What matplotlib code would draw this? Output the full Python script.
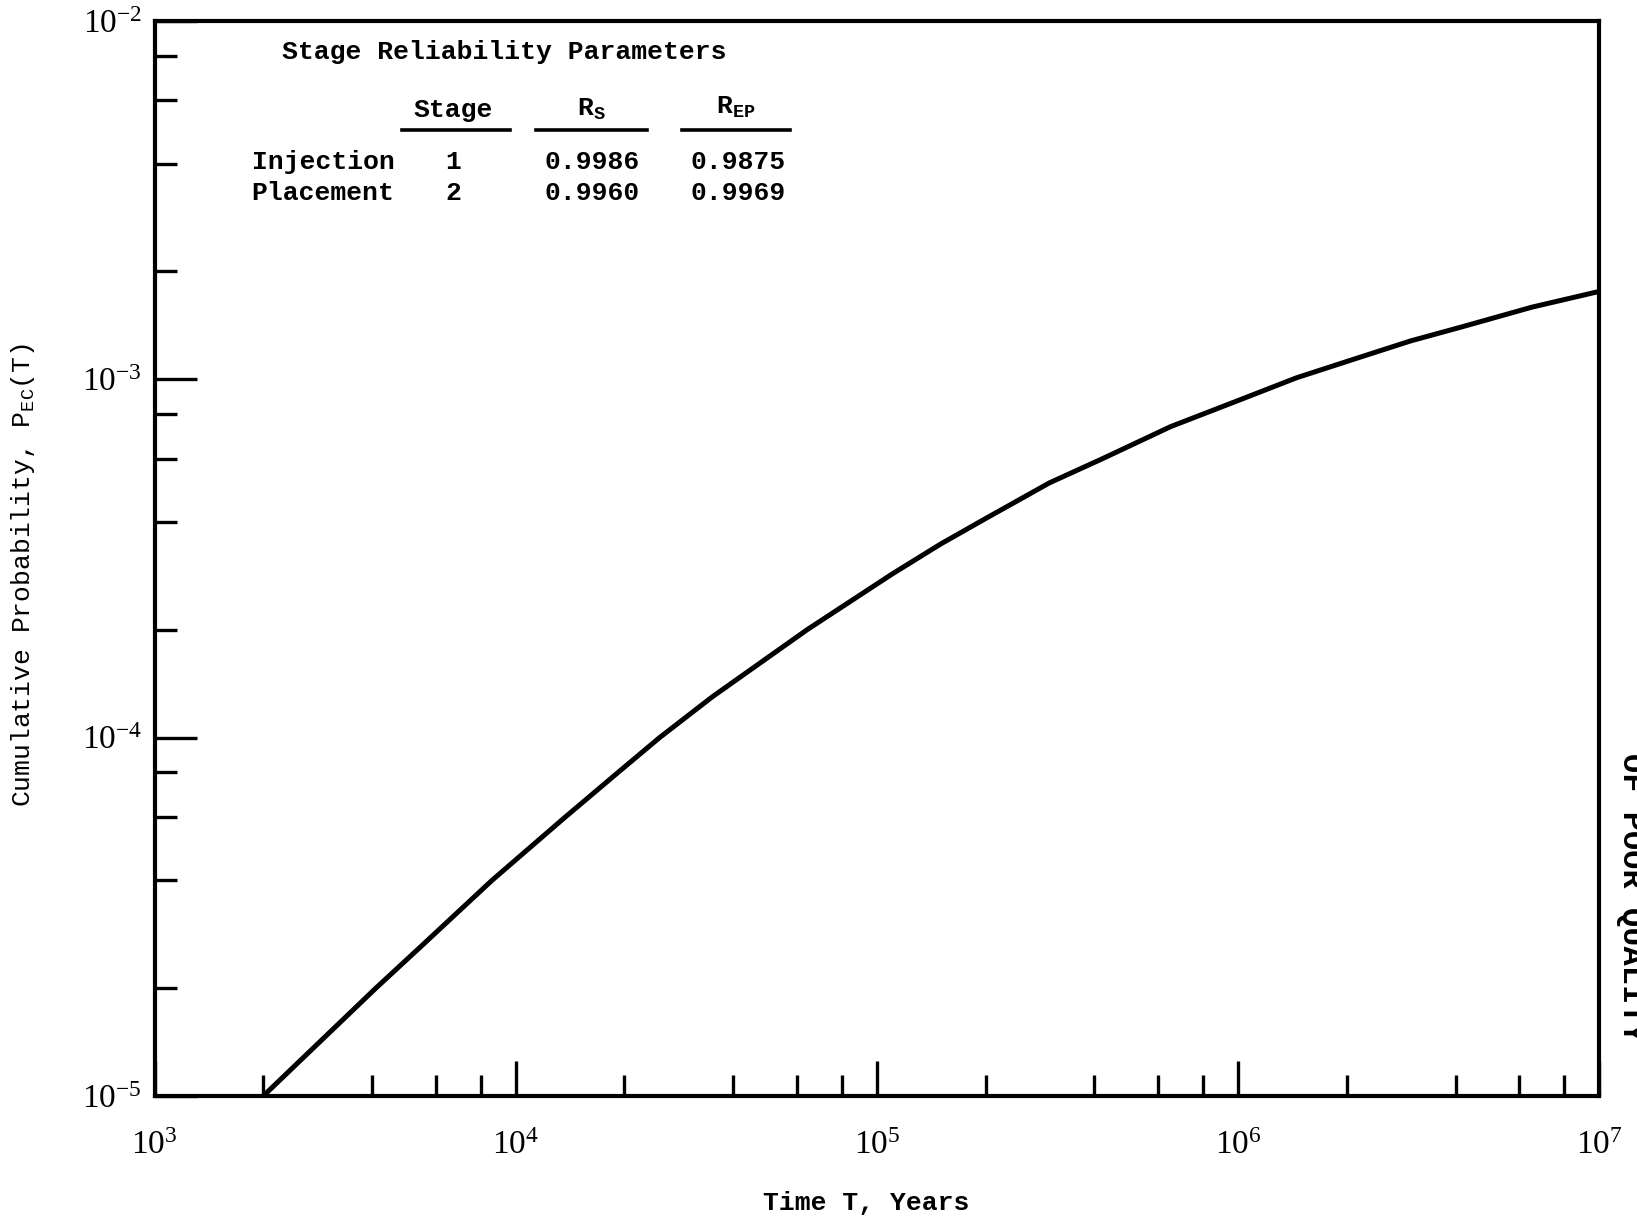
import numpy as np
import matplotlib
matplotlib.use("Agg")
import matplotlib.pyplot as plt
from matplotlib.ticker import LogLocator, NullFormatter, FuncFormatter

# curve
time_years = [2.0e3, 4.1e3, 5.5e3, 8.6e3, 1.37e4, 1.92e4, 2.5e4, 3.5e4, 6.4e4,
              1.1e5, 1.5e5, 2.0e5, 3.0e5, 4.2e5, 6.5e5, 1.0e6, 1.45e6, 2.1e6,
              3.0e6, 4.15e6, 6.5e6, 1.0e7]
prob_ec = [1.0e-5, 2.0e-5, 2.63e-5, 4.0e-5, 6.0e-5, 8.0e-5, 1.0e-4, 1.30e-4, 2.0e-4,
           2.86e-4, 3.47e-4, 4.09e-4, 5.14e-4, 6.0e-4, 7.38e-4, 8.73e-4, 1.01e-3, 1.14e-3,
           1.28e-3, 1.40e-3, 1.59e-3, 1.76e-3]

# stage reliability table
stage_names = ["Injection", "Placement"]
stage_nums = ["1", "2"]
r_s = ["0.9986", "0.9960"]
r_ep = ["0.9875", "0.9969"]

plt.rcParams["font.family"] = ["Liberation Mono", "DejaVu Sans"]
mono = "Liberation Mono"
serif = "Liberation Serif"


def decade_label(v, pos):
    return r"$\mathregular{10^{%d}}$" % int(round(np.log10(v)))


def make_fig():
    fig = plt.figure(figsize=(16.37, 12.23), dpi=100)
    ax = fig.add_axes([0.09438, 0.10384, 0.88271, 0.87899])

    ax.plot(time_years, prob_ec, color="black", lw=3.6, solid_joinstyle="round")
    ax.set_xscale("log")
    ax.set_yscale("log")
    ax.set_xlim(1e3, 1e7)
    ax.set_ylim(1e-5, 1e-2)

    for s in ax.spines.values():
        s.set_linewidth(3.0)

    for axis in (ax.xaxis, ax.yaxis):
        axis.set_major_locator(LogLocator(base=10, numticks=10))
        axis.set_minor_locator(LogLocator(base=10, subs=[2, 4, 6, 8], numticks=10))
        axis.set_major_formatter(FuncFormatter(decade_label))
        axis.set_minor_formatter(NullFormatter())

    ax.tick_params(axis="x", which="major", direction="in", length=25, width=2.4,
                   pad=25, labelsize=24, labelfontfamily=serif)
    ax.tick_params(axis="x", which="minor", direction="in", length=15, width=2.4)
    ax.tick_params(axis="y", which="major", direction="in", length=30, width=2.4,
                   pad=9, labelsize=24, labelfontfamily=serif)
    ax.tick_params(axis="y", which="minor", direction="in", length=16, width=2.4)

    ax.set_xlabel("Time T, Years", fontsize=19, fontweight="bold", va="center")
    ax.xaxis.set_label_coords(0.4924, -0.0995)
    ax.set_ylabel(r"Cumulative Probability, P$_{\mathregular{EC}}$(T)", fontsize=19, va="center")
    ax.yaxis.set_label_coords(-0.091, 0.4847)

    # table in upper left
    tk = dict(transform=ax.transAxes, fontsize=19, fontweight="bold",
              family=mono, va="center")
    ax.text(0.0882, 0.971, "Stage Reliability Parameters", ha="left", **tk)
    ax.text(0.2066, 0.9176, "Stage", ha="center", **tk)
    ax.text(0.302, 0.9176, r"R$_{\mathregular{S}}$", ha="center", **tk)
    ax.text(0.4024, 0.9196, r"R$_{\mathregular{EP}}$", ha="center", **tk)
    for x0, x1 in [(0.1713, 0.2457), (0.2637, 0.341), (0.3648, 0.44)]:
        ax.plot([x0, x1], [0.899, 0.899], transform=ax.transAxes,
                color="black", lw=2.6)
    rows_y = [0.869, 0.84]
    for i in range(len(stage_names)):
        ax.text(0.0672, rows_y[i], stage_names[i], ha="left", **tk)
        ax.text(0.2066, rows_y[i], stage_nums[i], ha="center", **tk)
        ax.text(0.3026, rows_y[i], r_s[i], ha="center", **tk)
        ax.text(0.4037, rows_y[i], r_ep[i], ha="center", **tk)

    # stamp at the edge of the scanned page, partly off the sheet
    fig.text(0.9962, 0.2666, "OF POOR QUALITY", rotation=-90, ha="center",
             va="center", fontsize=23, fontweight="bold", family=mono)
    return fig


def main():
    fig = make_fig()
    fig.savefig("out.png", dpi=100)


if __name__ == "__main__":
    main()
